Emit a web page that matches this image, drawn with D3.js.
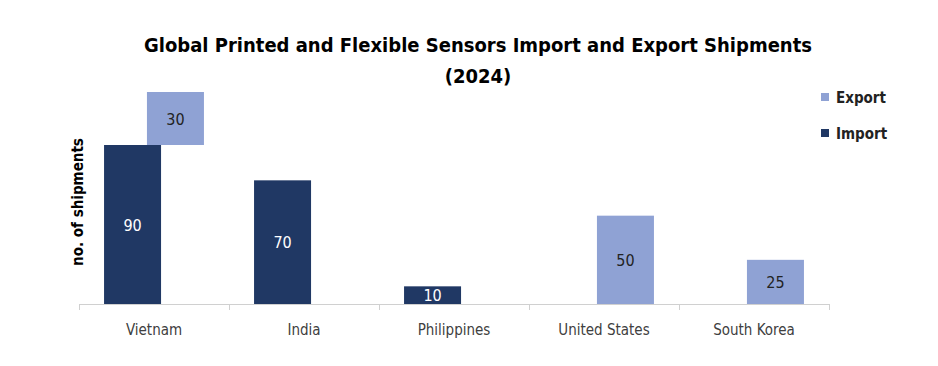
<!DOCTYPE html>
<html>
<head>
<meta charset="utf-8">
<script src="https://cdnjs.cloudflare.com/ajax/libs/d3/7.8.5/d3.min.js"></script>
<style>
  body { margin: 0; background: #fff; }
  text { font-family: "DejaVu Sans Condensed", "Liberation Sans", sans-serif; }
</style>
</head>
<body>
<script>
var categories = ["Vietnam", "India", "Philippines", "United States", "South Korea"];
var importVals = [90, 70, 10, 0, 0];
var exportVals = [30, 0, 0, 50, 25];
var yDomain = [0, 120];

var W = 938, H = 366;
var plotLeft = 79, plotRight = 829, plotBase = 304, plotTop = 92;
var colImport = "#203864", colExport = "#8FA2D4";

var svg = d3.select("body").append("svg").attr("width", W).attr("height", H);

var x = d3.scaleBand().domain(categories).range([plotLeft, plotRight]);
var y = d3.scaleLinear().domain(yDomain).range([plotBase, plotTop]);
var step = x.step();
var bw = step * 0.38, off = step * 0.143;

// title
var title = svg.append("text").attr("x", 478).attr("y", 52)
  .attr("text-anchor", "middle").attr("font-weight", "bold")
  .attr("font-size", 20).attr("fill", "#000");
title.append("tspan").attr("x", 478).text("Global Printed and Flexible Sensors Import and Export Shipments");
title.append("tspan").attr("x", 478).attr("dy", 31).text("(2024)");

// y label
svg.append("text").attr("transform", "translate(83,202) rotate(-90)")
  .attr("text-anchor", "middle").attr("font-weight", "bold").attr("font-size", 15)
  .text("no. of shipments");

// import bars
var imp = categories.map(function(c, i) { return { c: c, v: importVals[i] }; }).filter(function(d) { return d.v > 0; });
svg.selectAll("rect.imp").data(imp).enter().append("rect").attr("class", "imp")
  .attr("x", function(d) { return x(d.c) + step / 2 - off - bw / 2; })
  .attr("y", function(d) { return y(d.v); })
  .attr("width", bw)
  .attr("height", function(d) { return y(0) - y(d.v); })
  .attr("fill", colImport);
svg.selectAll("text.imp").data(imp).enter().append("text").attr("class", "imp")
  .attr("x", function(d) { return x(d.c) + step / 2 - off; })
  .attr("y", function(d) { return (y(d.v) + y(0)) / 2 + 6; })
  .attr("text-anchor", "middle").attr("font-size", 16).attr("fill", "#fff")
  .text(function(d) { return d.v; });

// export bars, stacked on the import value
var exp = categories.map(function(c, i) { return { c: c, v: exportVals[i], b: importVals[i] }; }).filter(function(d) { return d.v > 0; });
svg.selectAll("rect.exp").data(exp).enter().append("rect").attr("class", "exp")
  .attr("x", function(d) { return x(d.c) + step / 2 + off - bw / 2; })
  .attr("y", function(d) { return y(d.b + d.v); })
  .attr("width", bw)
  .attr("height", function(d) { return y(d.b) - y(d.b + d.v); })
  .attr("fill", colExport);
svg.selectAll("text.exp").data(exp).enter().append("text").attr("class", "exp")
  .attr("x", function(d) { return x(d.c) + step / 2 + off; })
  .attr("y", function(d) { return (y(d.b + d.v) + y(d.b)) / 2 + 6; })
  .attr("text-anchor", "middle").attr("font-size", 16).attr("fill", "#222")
  .text(function(d) { return d.v; });

// x axis
var ax = svg.append("g").attr("transform", "translate(0," + plotBase + ")");
ax.append("line").attr("x1", plotLeft).attr("x2", plotRight).attr("y1", 0.5).attr("y2", 0.5)
  .attr("stroke", "#d0d0d0");
var edges = categories.map(function(c) { return x(c); }).concat([plotRight]);
ax.selectAll("line.tk").data(edges).enter().append("line").attr("class", "tk")
  .attr("x1", function(d) { return Math.round(d) + 0.5; }).attr("x2", function(d) { return Math.round(d) + 0.5; })
  .attr("y1", 0).attr("y2", 6).attr("stroke", "#d0d0d0");
ax.selectAll("text").data(categories).enter().append("text")
  .attr("x", function(d) { return x(d) + step / 2; }).attr("y", 31)
  .attr("text-anchor", "middle").attr("font-size", 15).attr("fill", "#404040")
  .text(function(d) { return d; });

// legend
var leg = [{ n: "Export", c: colExport }, { n: "Import", c: colImport }];
var lg = svg.selectAll("g.leg").data(leg).enter().append("g").attr("class", "leg")
  .attr("transform", function(d, i) { return "translate(821," + (93 + i * 36) + ")"; });
lg.append("rect").attr("width", 8).attr("height", 8).attr("fill", function(d) { return d.c; });
lg.append("text").attr("x", 15).attr("y", 10).attr("font-weight", "bold").attr("font-size", 15)
  .attr("fill", "#222").text(function(d) { return d.n; });
</script>
</body>
</html>
